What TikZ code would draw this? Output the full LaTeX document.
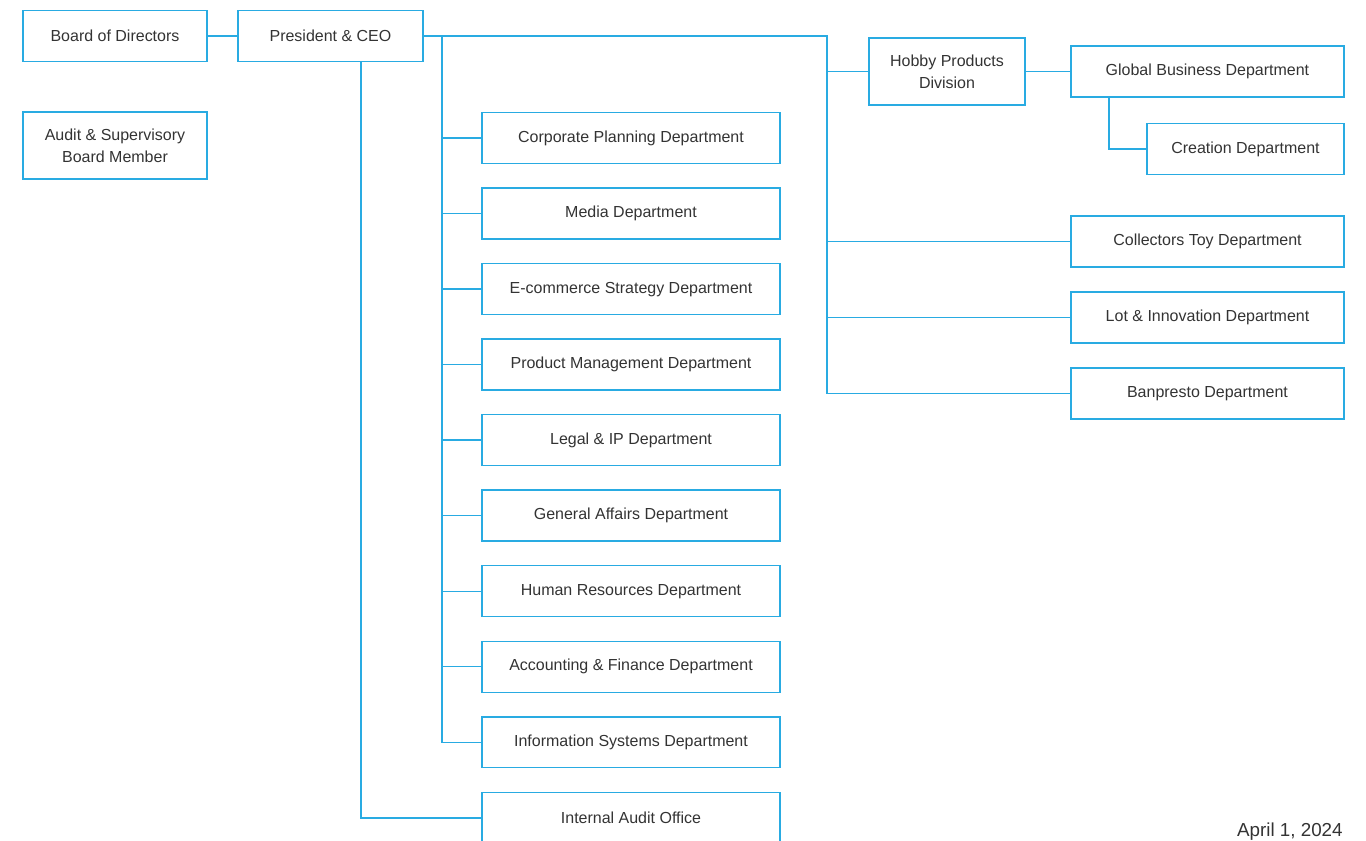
\documentclass[tikz,border=0pt]{standalone}
\usepackage{fontspec}
\setmainfont{Liberation Sans}
\usepackage{xcolor}
\usepackage{tikz}
\usetikzlibrary{positioning}
\definecolor{orgline}{HTML}{29ABE2}
\definecolor{orgtext}{HTML}{333333}

\begin{document}
\begin{tikzpicture}[x=0.02cm,y=-0.02cm,
    every node/.style={font=\fontsize{9.1}{12.5}\selectfont,text=orgtext},
    unit/.style={rectangle,draw=orgline,line width=0.8pt,inner sep=0pt,outer sep=0pt,minimum height=1.02cm,align=center},
    dept/.style={unit,minimum width=5.96cm},
    rdept/.style={unit,minimum width=5.46cm},
    link/.style={draw=orgline,line width=0.8pt}]
    \useasboundingbox (0,0) rectangle (1366,840);
    % top row
    \node[unit,minimum width=3.68cm] (board) at (115,36) {Board of Directors};
    \node[unit,minimum width=3.7cm,right = 0.62cm of board] (ceo) {President \& CEO};
    \node[unit,minimum width=3.68cm,minimum height=1.34cm] (asb) at (115,145.5) {Audit \& Supervisory\\Board Member};
    % departments under the CEO
    \node[dept] (plan) at (631,138) {Corporate Planning Department};
    \node[dept,below = 0.491cm of plan] (media) {Media Department};
    \node[dept,below = 0.491cm of media] (ecom) {E-commerce Strategy Department};
    \node[dept,below = 0.491cm of ecom] (prod) {Product Management Department};
    \node[dept,below = 0.491cm of prod] (legal) {Legal \& IP Department};
    \node[dept,below = 0.491cm of legal] (ga) {General Affairs Department};
    \node[dept,below = 0.491cm of ga] (hr) {Human Resources Department};
    \node[dept,below = 0.491cm of hr] (acct) {Accounting \& Finance Department};
    \node[dept,below = 0.491cm of acct] (infosys) {Information Systems Department};
    \node[dept,below = 0.491cm of infosys] (iao) {Internal Audit Office};
    % hobby side
    \node[unit,minimum width=3.12cm,minimum height=1.34cm] (hobby) at (947,71.5) {Hobby Products\\Division};
    \node[rdept,right = 0.92cm of hobby] (glob) {Global Business Department};
    \node[unit,minimum width=3.94cm] (crea) at (1245.5,149) {Creation Department};
    \node[rdept] (toy) at (1207.5,241.5) {Collectors Toy Department};
    \node[rdept,below = 0.5cm of toy] (lot) {Lot \& Innovation Department};
    \node[rdept,below = 0.5cm of lot] (bnp) {Banpresto Department};
    \node[anchor=base east,inner sep=0pt,font=\fontsize{10.7}{13}\selectfont] (date) at (1343,836) {April 1, 2024};
    % buses
    \coordinate (lbus) at (442,38);
    \coordinate (rbus) at (827,38);
    \draw[link] (board) -- (ceo);
    \draw[link] (ceo.east) -- (ceo.east -| rbus) |- (bnp.west);
    \draw[link] (ceo.east -| lbus) |- (infosys.west);
    \draw[link] ([xshift=0.61cm]ceo.south) |- (iao.west);
    \draw[link] (lbus |- plan.west) -- (plan.west);
    \draw[link] (lbus |- media.west) -- (media.west);
    \draw[link] (lbus |- ecom.west) -- (ecom.west);
    \draw[link] (lbus |- prod.west) -- (prod.west);
    \draw[link] (lbus |- legal.west) -- (legal.west);
    \draw[link] (lbus |- ga.west) -- (ga.west);
    \draw[link] (lbus |- hr.west) -- (hr.west);
    \draw[link] (lbus |- acct.west) -- (acct.west);
    \draw[link] (rbus |- hobby.west) -- (hobby.west);
    \draw[link] (rbus |- toy.west) -- (toy.west);
    \draw[link] (rbus |- lot.west) -- (lot.west);
    \draw[link] (hobby) -- (glob);
    \draw[link] ([xshift=-1.97cm]glob.south) |- (crea.west);
\end{tikzpicture}
\end{document}
